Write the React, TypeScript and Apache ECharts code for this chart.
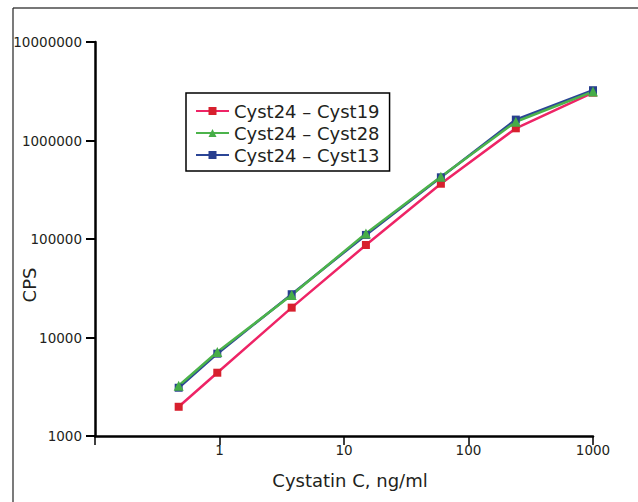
import React, { useEffect, useRef } from "react";
import * as echarts from "echarts";

const concentrations = [0.47, 0.96, 3.8, 15, 60, 240, 1000];
const seriesNames = ["Cyst24 – Cyst19", "Cyst24 – Cyst28", "Cyst24 – Cyst13"];
const cyst19 = [1980, 4390, 20100, 86900, 364000, 1330000, 3060000];
const cyst28 = [3240, 7130, 27000, 114000, 429000, 1550000, 3140000];
const cyst13 = [3090, 6850, 27500, 110000, 423000, 1630000, 3240000];
const xTickValues = [1, 10, 100, 1000];
const yTickValues = [1000, 10000, 100000, 1000000, 10000000];

const FONT = "DejaVu Sans";
const TEXT = "#231f20";

function pairs(ys: number[]) {
  return concentrations.map((x, i) => [x, ys[i]]);
}

export default function App() {
  const ref = useRef<HTMLDivElement>(null);
  useEffect(() => {
    if (!ref.current) return;
    const chart = echarts.init(ref.current, undefined, { renderer: "svg" });
    const near = (v: number, list: number[]) =>
      list.find((t) => Math.abs(Math.log10(v) - Math.log10(t)) < 1e-6);
    chart.setOption({
      animation: false,
      backgroundColor: "#ffffff",
      grid: { left: 95, right: 45, top: 42, bottom: 66 },
      xAxis: {
        type: "log",
        logBase: 10,
        min: 0.1,
        max: 1000,
        axisLine: { lineStyle: { color: "#000", width: 2.5 } },
        axisTick: { length: 9, lineStyle: { color: "#000", width: 1.5 } },
        splitLine: { show: false },
        axisLabel: {
          margin: 7,
          fontFamily: FONT,
          fontSize: 13.5,
          color: TEXT,
          formatter: (v: number) => {
            const t = near(v, xTickValues);
            return t ? String(t) : "";
          },
        },
      },
      yAxis: {
        type: "log",
        logBase: 10,
        min: 1000,
        max: 10000000,
        axisLine: { lineStyle: { color: "#000", width: 2.5 } },
        axisTick: { length: 9, lineStyle: { color: "#000", width: 2 } },
        splitLine: { show: false },
        axisLabel: {
          margin: 13,
          fontFamily: FONT,
          fontSize: 13.5,
          color: TEXT,
          formatter: (v: number) => {
            const t = near(v, yTickValues);
            return t ? String(t) : "";
          },
        },
      },
      legend: {
        orient: "vertical",
        left: 186,
        top: 93,
        data: seriesNames,
        backgroundColor: "#fff",
        borderColor: "#000",
        borderWidth: 1.5,
        borderRadius: 0,
        padding: [9, 10, 7, 9],
        itemWidth: 33,
        itemHeight: 10,
        itemGap: 4,
        textStyle: { fontFamily: FONT, fontSize: 18, color: TEXT },
      },
      series: [
        {
          name: seriesNames[0],
          type: "line",
          data: pairs(cyst19),
          symbol: "rect",
          symbolSize: 8,
          itemStyle: { color: "#d7202e" },
          lineStyle: { color: "#ee2466", width: 2.5 },
        },
        {
          name: seriesNames[2],
          type: "line",
          data: pairs(cyst13),
          symbol: "rect",
          symbolSize: 8,
          itemStyle: { color: "#283f8f" },
          lineStyle: { color: "#2b4596", width: 2.5 },
        },
        {
          name: seriesNames[1],
          type: "line",
          data: pairs(cyst28),
          symbol: "triangle",
          symbolSize: 10,
          itemStyle: { color: "#46ad47" },
          lineStyle: { color: "#4cb34b", width: 2.5 },
        },
      ],
      graphic: [
        {
          type: "line",
          shape: { x1: 13, y1: 8, x2: 638, y2: 8 },
          style: { stroke: "#4a4a4a", lineWidth: 1.5 },
        },
        {
          type: "line",
          shape: { x1: 13, y1: 8, x2: 13, y2: 502 },
          style: { stroke: "#222", lineWidth: 1.2 },
        },
        {
          type: "text",
          x: 29,
          y: 285,
          rotation: Math.PI / 2,
          style: {
            text: "CPS",
            fontFamily: FONT,
            fontSize: 18,
            fill: TEXT,
            align: "center",
            verticalAlign: "middle",
          },
        },
        {
          type: "text",
          x: 350,
          y: 480,
          style: {
            text: "Cystatin C, ng/ml",
            fontFamily: FONT,
            fontSize: 18,
            fill: TEXT,
            align: "center",
            verticalAlign: "middle",
          },
        },
      ],
    });
    return () => chart.dispose();
  }, []);
  return (
    <div
      ref={ref}
      style={{ position: "absolute", left: 0, top: 0, width: 638, height: 502 }}
    />
  );
}
